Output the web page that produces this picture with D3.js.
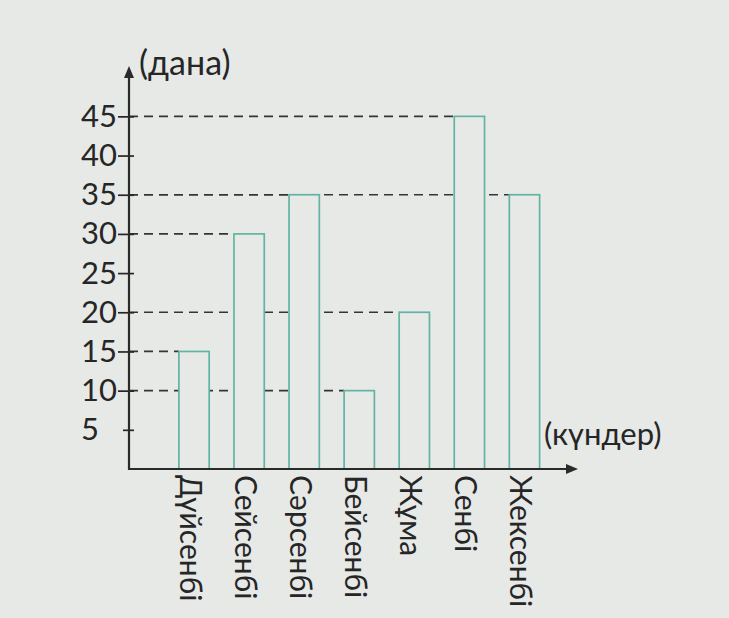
<!DOCTYPE html>
<html><head><meta charset="utf-8">
<script src="https://cdn.jsdelivr.net/npm/d3@7"></script>
<style>
html,body{margin:0;padding:0;background:#e7e9e7;}
svg{display:block;}
text{font-family:Lato,"Open Sans",sans-serif;fill:#262626;}
</style></head>
<body>
<svg id="c" width="729" height="618"></svg>
<script>
const days = ["Дүйсенбі","Сейсенбі","Сәрсенбі","Бейсенбі","Жұма","Сенбі","Жексенбі"];
const values = [15, 30, 35, 10, 20, 45, 35];
const yTicks = [5,10,15,20,25,30,35,40,45];
const yTitle = "(дана)";
const xTitle = "(күндер)";

const BG = "#e7e9e7";
const svg = d3.select("#c");
svg.append("rect").attr("width",729).attr("height",618).attr("fill",BG);

const x0 = 129, y0 = 469;
const y = d3.scaleLinear().domain([0, 51.3]).range([y0, 67]);
const x = d3.scaleBand().domain(days).range([166.5, 552]).paddingInner(0.45).paddingOuter(0.225);

// dashed guide lines
svg.append("g").selectAll("line").data(days).join("line")
  .attr("x1", x0).attr("x2", d => x(d))
  .attr("y1", (d,i) => y(values[i])).attr("y2", (d,i) => y(values[i]))
  .attr("stroke","#353535").attr("stroke-width",1.7).attr("stroke-dasharray","9,6");

// bars
svg.append("g").selectAll("rect").data(days).join("rect")
  .attr("x", d => x(d)).attr("width", x.bandwidth())
  .attr("y", (d,i) => y(values[i])).attr("height", (d,i) => y0 - y(values[i]))
  .attr("fill",BG).attr("stroke","#62b3a2").attr("stroke-width",1.7);

// y axis
const yAxis = d3.axisLeft(y).tickValues(yTicks).tickSizeInner(11).tickSizeOuter(0).tickPadding(1);
const gy = svg.append("g").attr("transform",`translate(${x0},0)`).call(yAxis);
gy.select(".domain").remove();
gy.selectAll(".tick line").attr("x2", 5).attr("stroke","#262626").attr("stroke-width",1.7)
  .attr("x1", d => d === 5 ? -6 : -11);
gy.selectAll(".tick text").attr("font-size",31).attr("fill","#262626")
  .style("font-family","Lato, sans-serif")
  .attr("x", d => d === 5 ? -30 : -12);

// x axis labels (rotated)
const xAxis = d3.axisBottom(x).tickSize(0).tickPadding(0);
const gx = svg.append("g").attr("transform",`translate(0,${y0})`).call(xAxis);
gx.select(".domain").remove();
gx.selectAll(".tick text")
  .attr("font-size",30).attr("fill","#262626").style("font-family","Lato, sans-serif")
  .attr("text-anchor","start").attr("dy","0.35em")
  .attr("transform","translate(-4,6) rotate(90)").attr("x",0).attr("y",0);

// axis lines with arrows
const ax = svg.append("g").attr("stroke","#2a2a2a").attr("stroke-width",2.2).attr("fill","none");
ax.append("line").attr("x1",x0).attr("y1",y0+1).attr("x2",x0).attr("y2",y(51.3)+4);
ax.append("line").attr("x1",x0-1).attr("y1",y0).attr("x2",574).attr("y2",y0);
svg.append("path").attr("d",`M${x0-5},${y(51.3)+11} L${x0},${y(51.3)-1} L${x0+5},${y(51.3)+11} Z`).attr("fill","#2a2a2a");
svg.append("path").attr("d",`M566,${y0-5} L578,${y0} L566,${y0+5} Z`).attr("fill","#2a2a2a");

svg.append("text").attr("x",139).attr("y",75).attr("font-size",34).text(yTitle);
svg.append("text").attr("x",544).attr("y",445).attr("font-size",31).text(xTitle);
</script>
</body></html>
